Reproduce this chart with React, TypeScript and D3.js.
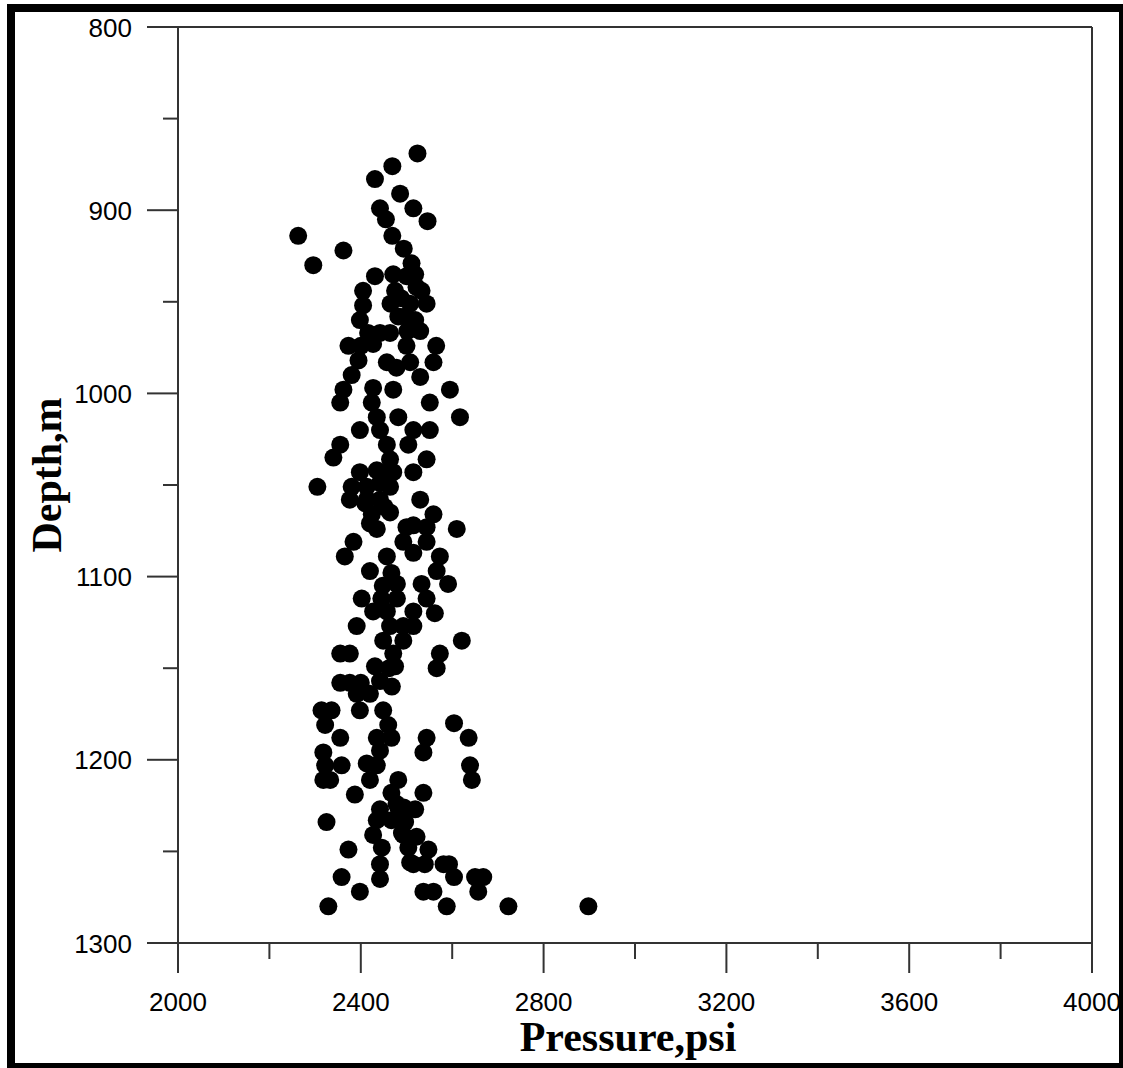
import React from "react";
import * as d3 from "d3";

const pressure: number[] = [
  2524, 2469, 2431, 2486, 2515, 2546, 2442, 2455, 2263, 2362, 2296, 2469, 2494, 2511, 2519, 2431, 2471, 2475, 2405, 2405,
  2398, 2522, 2544, 2533, 2508, 2519, 2482, 2500, 2465, 2497, 2530, 2416, 2442, 2464,
  2373, 2400, 2427, 2457, 2500, 2508, 2565, 2559, 2530, 2380, 2362, 2355, 2427, 2471, 2424, 2595, 2551, 2617, 2435, 2482,
  2398, 2442, 2515, 2551, 2355, 2340, 2457, 2504, 2464, 2544, 2398, 2435, 2471, 2515, 2305, 2380, 2442, 2464, 2376, 2413,
  2442, 2530, 2424, 2464, 2559, 2515, 2395, 2413, 2420,
  2610, 2435, 2500, 2544, 2384, 2365, 2493, 2515, 2544, 2573, 2457, 2420, 2467, 2566, 2591, 2533, 2479, 2402, 2479, 2544,
  2562, 2427, 2457, 2515, 2515, 2391, 2464, 2493, 2449, 2493, 2621, 2355, 2376, 2573, 2471, 2475, 2431, 2566, 2355, 2376,
  2442, 2420, 2391, 2314, 2336, 2398, 2449,
  2322, 2460, 2604, 2355, 2435, 2467, 2544, 2636, 2318, 2442, 2537, 2322, 2358, 2413, 2435, 2639, 2318, 2333, 2420, 2643,
  2482, 2387, 2467, 2537, 2442, 2482, 2519, 2435, 2467, 2325, 2497, 2427, 2493, 2522, 2373, 2446, 2504, 2548, 2442, 2515,
  2540, 2581, 2593, 2358, 2442, 2604, 2650, 2668, 2398, 2537, 2559, 2657, 2329, 2588, 2723, 2898,
  2410, 2452, 2450, 2488, 2502, 2478, 2448, 2445, 2462, 2468, 2400, 2478, 2494, 2490, 2508
];

const depth: number[] = [
  869, 876, 883, 891, 899, 906, 899, 905, 914, 922, 930, 914, 921, 929, 935, 936, 935, 944, 944, 952,
  960, 942, 951, 944, 951, 960, 958, 936, 951, 958, 966, 967, 967, 967,
  974, 974, 973, 983, 974, 983, 974, 983, 991, 990, 998, 1005, 997, 998, 1005, 998, 1005, 1013, 1013, 1013,
  1020, 1020, 1020, 1020, 1028, 1035, 1028, 1028, 1036, 1036, 1043, 1042, 1043, 1043, 1051, 1051, 1049, 1051, 1058, 1058,
  1058, 1058, 1066, 1065, 1066, 1072, 982, 1051, 1071,
  1074, 1074, 1073, 1073, 1081, 1089, 1081, 1087, 1081, 1089, 1089, 1097, 1098, 1097, 1104, 1104, 1104, 1112, 1112, 1112,
  1120, 1119, 1119, 1119, 1127, 1127, 1127, 1127, 1135, 1135, 1135, 1142, 1142, 1142, 1142, 1149, 1149, 1150, 1158, 1158,
  1157, 1164, 1164, 1173, 1173, 1173, 1173,
  1181, 1181, 1180, 1188, 1188, 1188, 1188, 1188, 1196, 1195, 1196, 1203, 1203, 1202, 1203, 1203, 1211, 1211, 1211, 1211,
  1211, 1219, 1218, 1218, 1227, 1226, 1227, 1233, 1233, 1234, 1234, 1241, 1241, 1242, 1249, 1248, 1248, 1249, 1257, 1257,
  1257, 1257, 1257, 1264, 1265, 1264, 1264, 1264, 1272, 1272, 1272, 1272, 1280, 1280, 1280, 1280,
  1060, 1062, 1044, 948, 966, 986, 1105, 1112, 1150, 1160, 1158, 1224, 1226, 1240, 1256
];

const xMajorTicks: number[] = [2000, 2400, 2800, 3200, 3600, 4000];
const xMinorTicks: number[] = [2200, 2600, 3000, 3400, 3800];
const yMajorTicks: number[] = [800, 900, 1000, 1100, 1200, 1300];
const yMinorTicks: number[] = [850, 950, 1050, 1150, 1250];

const xTitle = "Pressure,psi";
const yTitle = "Depth,m";

export default function App() {
  const W = 1123;
  const H = 1068;
  const left = 178;
  const right = 1092;
  const top = 27;
  const bottom = 943;

  const x = d3.scaleLinear().domain([2000, 4000]).range([left, right]);
  const y = d3.scaleLinear().domain([800, 1300]).range([top, bottom]);

  const axisColor = "#333";
  const tickFont = "'Liberation Sans', Arial, sans-serif";
  const titleFont = "'Liberation Serif', 'Times New Roman', serif";

  const pts = pressure.map((p, i) => [p, depth[i]] as [number, number]);

  return (
    <svg
      width={W}
      height={H}
      style={{ position: "absolute", left: 0, top: 0, background: "#fff" }}
    >
      <rect x={0} y={0} width={W} height={H} fill="#fff" />
      {/* outer frame */}
      <rect x={7} y={4} width={8} height={1064} fill="#000" />
      <rect x={7} y={4} width={1116} height={8} fill="#000" />
      <rect x={1119} y={4} width={4} height={1064} fill="#000" />
      <rect x={7} y={1063} width={1116} height={5} fill="#000" />

      {/* plot box */}
      <line x1={left} y1={top} x2={right} y2={top} stroke={axisColor} strokeWidth={2} />
      <line x1={right} y1={top} x2={right} y2={bottom} stroke={axisColor} strokeWidth={2} />
      <line x1={left} y1={top} x2={left} y2={bottom} stroke={axisColor} strokeWidth={2} />
      <line x1={left} y1={bottom} x2={right} y2={bottom} stroke={axisColor} strokeWidth={2} />

      {/* y ticks */}
      {yMajorTicks.map((t) => (
        <g key={"ym" + t}>
          <line x1={left - 31} x2={left} y1={y(t)} y2={y(t)} stroke={axisColor} strokeWidth={2} />
          <text
            x={132}
            y={y(t) + 9.5}
            textAnchor="end"
            fontFamily={tickFont}
            fontSize={26}
            fill="#000"
          >
            {t}
          </text>
        </g>
      ))}
      {yMinorTicks.map((t) => (
        <line key={"yn" + t} x1={left - 15} x2={left} y1={y(t)} y2={y(t)} stroke={axisColor} strokeWidth={2} />
      ))}

      {/* x ticks */}
      {xMajorTicks.map((t) => (
        <g key={"xm" + t}>
          <line x1={x(t)} x2={x(t)} y1={bottom} y2={bottom + 30} stroke={axisColor} strokeWidth={2} />
          <text
            x={x(t)}
            y={1011}
            textAnchor="middle"
            fontFamily={tickFont}
            fontSize={26}
            fill="#000"
          >
            {t}
          </text>
        </g>
      ))}
      {xMinorTicks.map((t) => (
        <line key={"xn" + t} x1={x(t)} x2={x(t)} y1={bottom} y2={bottom + 16} stroke={axisColor} strokeWidth={2} />
      ))}

      {/* points */}
      {pts.map((d, i) => (
        <circle key={i} cx={x(d[0])} cy={y(d[1])} r={9} fill="#000" />
      ))}

      {/* titles */}
      <text
        x={628}
        y={1051}
        textAnchor="middle"
        fontFamily={titleFont}
        fontWeight="bold"
        fontSize={42}
        fill="#000"
      >
        {xTitle}
      </text>
      <text
        transform={`translate(61, 475) rotate(-90)`}
        textAnchor="middle"
        fontFamily={titleFont}
        fontWeight="bold"
        fontSize={42}
        fill="#000"
      >
        {yTitle}
      </text>
    </svg>
  );
}
